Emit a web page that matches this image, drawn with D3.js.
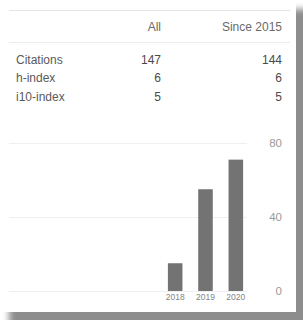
<!DOCTYPE html>
<html>
<head>
<meta charset="utf-8">
<script src="https://cdn.jsdelivr.net/npm/d3@7/dist/d3.min.js"></script>
<style>
  body { margin: 0; background: #fff; }
  svg { display: block; }
  text { font-family: "Liberation Sans", Arial, sans-serif; }
</style>
</head>
<body>
<div id="chart"></div>
<script>
// table
var columns = ["All", "Since 2015"];
var metrics = ["Citations", "h-index", "i10-index"];
var allValues = [147, 6, 5];
var sinceValues = [144, 6, 5];

// bars
var years = ["2018", "2019", "2020"];
var citations = [15, 55, 71];
var yTicks = [0, 40, 80];

var W = 303, H = 320;

var svg = d3.select('#chart').append('svg')
    .attr('width', W)
    .attr('height', H);

// card shadow
var defs = svg.append('defs');
defs.append('filter').attr('id', 'blur')
    .attr('x', '-10%').attr('y', '-10%').attr('width', '120%').attr('height', '120%')
    .append('feGaussianBlur').attr('stdDeviation', 3);

svg.append('rect')
    .attr('x', 9).attr('y', 9).attr('width', 320).attr('height', 330)
    .attr('fill', '#8d8d8d')
    .attr('filter', 'url(#blur)');

svg.append('rect')
    .attr('x', 0).attr('y', 0).attr('width', 296).attr('height', 312)
    .attr('fill', '#fff');

// table lines
svg.append('line').attr('x1', 9).attr('x2', 290).attr('y1', 10.5).attr('y2', 10.5)
    .attr('stroke', '#e4e4e4');
svg.append('line').attr('x1', 9).attr('x2', 290).attr('y1', 42.5).attr('y2', 42.5)
    .attr('stroke', '#ececec');

// header
var colX = [161, 282];
svg.selectAll('.head').data(columns).enter().append('text')
    .attr('class', 'head')
    .attr('x', function(d, i){ return colX[i]; })
    .attr('y', 31)
    .attr('text-anchor', 'end')
    .style('font-size', '12px')
    .style('fill', '#6a6a6a')
    .text(function(d){ return d; });

// rows
var rowY = d3.scalePoint().domain(metrics).range([63.5, 100.5]);

var rows = svg.selectAll('.row').data(metrics).enter().append('g')
    .attr('class', 'row')
    .attr('transform', function(d){ return 'translate(0,' + rowY(d) + ')'; });

rows.append('text')
    .attr('x', 16)
    .style('font-size', '12px')
    .style('fill', '#5a5a5a')
    .text(function(d){ return d; });

rows.append('text')
    .attr('x', colX[0])
    .attr('text-anchor', 'end')
    .style('font-size', '12px')
    .style('fill', '#4a4a4a')
    .text(function(d, i){ return allValues[i]; });

rows.append('text')
    .attr('x', colX[1])
    .attr('text-anchor', 'end')
    .style('font-size', '12px')
    .style('fill', '#4a4a4a')
    .text(function(d, i){ return sinceValues[i]; });

// chart
var x = d3.scaleBand().domain(years).range([160, 251]).paddingInner(0.52).paddingOuter(0.26);
var y = d3.scaleLinear().domain([0, 80]).range([291, 143]);

// gridlines
svg.selectAll('.grid').data(yTicks).enter().append('line')
    .attr('class', 'grid')
    .attr('x1', 9).attr('x2', 247)
    .attr('y1', function(d){ return Math.round(y(d)) + 0.5; })
    .attr('y2', function(d){ return Math.round(y(d)) + 0.5; })
    .attr('stroke', '#efefef');

// bars
svg.selectAll('.bar').data(citations).enter().append('rect')
    .attr('class', 'bar')
    .attr('x', function(d, i){ return x(years[i]); })
    .attr('width', x.bandwidth())
    .attr('y', function(d){ return y(d); })
    .attr('height', function(d){ return y(0) - y(d); })
    .attr('fill', '#737373');

// year labels
svg.selectAll('.year').data(years).enter().append('text')
    .attr('class', 'year')
    .attr('x', function(d){ return x(d) + x.bandwidth() / 2; })
    .attr('y', 300)
    .attr('text-anchor', 'middle')
    .style('font-size', '8.5px')
    .style('fill', '#858585')
    .text(function(d){ return d; });

// y axis labels on the right
svg.selectAll('.ylab').data(yTicks).enter().append('text')
    .attr('class', 'ylab')
    .attr('x', 282)
    .attr('y', function(d){ return y(d) + 4; })
    .attr('text-anchor', 'end')
    .style('font-size', '11.5px')
    .style('fill', '#9a9a9a')
    .text(function(d){ return d; });
</script>
</body>
</html>
